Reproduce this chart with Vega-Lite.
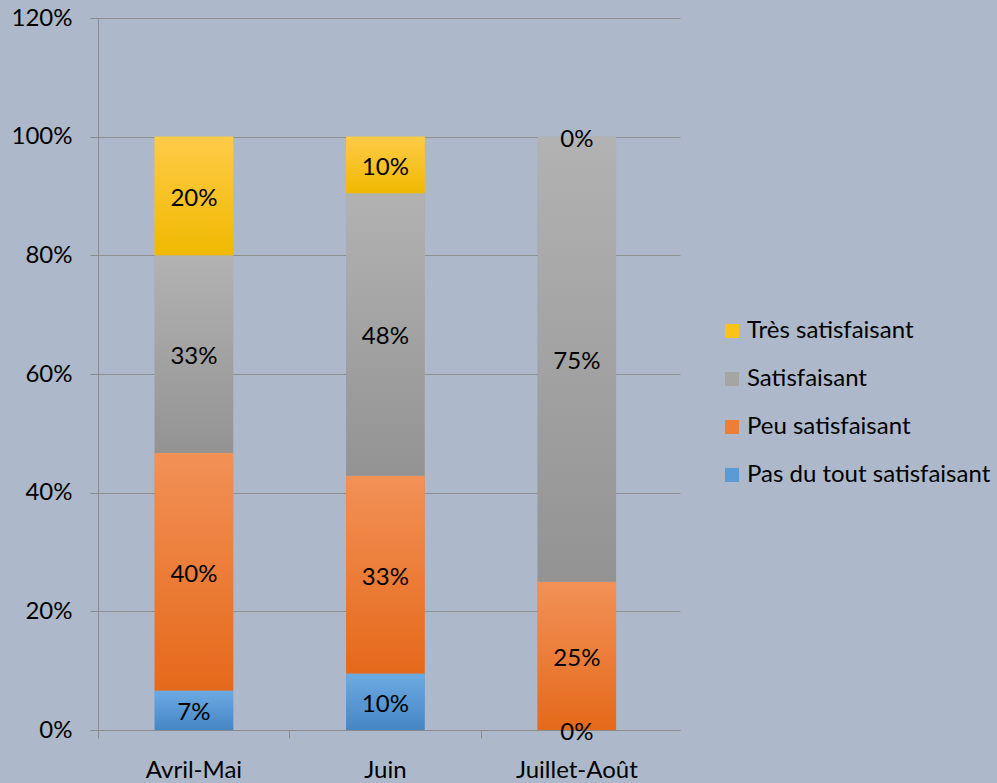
{
  "$schema": "https://vega.github.io/schema/vega-lite/v6.json",
  "autosize": {"type": "none"},
  "width": 582,
  "height": 712,
  "padding": {"left": 98, "top": 18, "right": 317, "bottom": 53},
  "background": "#adb9ca",
  "config": {
    "view": {"stroke": null},
    "font": "Lato",
    "text": {"font": "Lato"}
  },
  "data": {
    "values": [
      {"periode": "Avril-Mai", "niveau": "Pas du tout satisfaisant", "ordre": 1, "valeur": 0.0667},
      {"periode": "Avril-Mai", "niveau": "Peu satisfaisant", "ordre": 2, "valeur": 0.4},
      {"periode": "Avril-Mai", "niveau": "Satisfaisant", "ordre": 3, "valeur": 0.3333},
      {"periode": "Avril-Mai", "niveau": "Très satisfaisant", "ordre": 4, "valeur": 0.2},
      {"periode": "Juin", "niveau": "Pas du tout satisfaisant", "ordre": 1, "valeur": 0.0952},
      {"periode": "Juin", "niveau": "Peu satisfaisant", "ordre": 2, "valeur": 0.3333},
      {"periode": "Juin", "niveau": "Satisfaisant", "ordre": 3, "valeur": 0.4762},
      {"periode": "Juin", "niveau": "Très satisfaisant", "ordre": 4, "valeur": 0.0952},
      {"periode": "Juillet-Août", "niveau": "Pas du tout satisfaisant", "ordre": 1, "valeur": 0},
      {"periode": "Juillet-Août", "niveau": "Peu satisfaisant", "ordre": 2, "valeur": 0.25},
      {"periode": "Juillet-Août", "niveau": "Satisfaisant", "ordre": 3, "valeur": 0.75},
      {"periode": "Juillet-Août", "niveau": "Très satisfaisant", "ordre": 4, "valeur": 0}
    ]
  },
  "transform": [
    {"stack": "valeur", "groupby": ["periode"], "sort": [{"field": "ordre", "order": "ascending"}], "as": ["bas", "haut"]},
    {"calculate": "(datum.bas + datum.haut) / 2", "as": "milieu"}
  ],
  "encoding": {
    "x": {
      "field": "periode",
      "type": "nominal",
      "sort": ["Avril-Mai", "Juin", "Juillet-Août"],
      "scale": {"paddingInner": 0.59, "paddingOuter": 0.315, "align": 0.47},
      "axis": {
        "title": null,
        "labelAngle": 0,
        "labelFontSize": 24,
        "labelColor": "#000000",
        "labelPadding": 20,
        "tickSize": 8,
        "tickColor": "#8a8a8a",
        "domainColor": "#8a8a8a",
        "bandPosition": -0.72,
        "labelFont": "Lato"
      }
    }
  },
  "layer": [
    {
      "mark": {"type": "bar"},
      "encoding": {
        "y": {
          "field": "bas",
          "type": "quantitative",
          "scale": {"domain": [0, 1.2], "nice": false},
          "axis": {
            "title": null,
            "values": [0, 0.2, 0.4, 0.6, 0.8, 1.0, 1.2],
            "format": ".0%",
            "grid": true,
            "gridColor": "#8f8f8f",
            "gridOpacity": 1,
            "tickSize": 8,
            "tickColor": "#8a8a8a",
            "domainColor": "#8a8a8a",
            "labelFontSize": 24,
            "labelColor": "#000000",
            "labelPadding": 18,
            "labelFont": "Lato"
          }
        },
        "y2": {"field": "haut"},
        "color": {
          "field": "niveau",
          "type": "nominal",
          "scale": {
            "domain": ["Très satisfaisant", "Satisfaisant", "Peu satisfaisant", "Pas du tout satisfaisant"],
            "range": ["#fbc317", "#a5a5a5", "#ee7d35", "#5b9bd5"]
          },
          "legend": {
            "title": null,
            "orient": "none",
            "legendX": 622,
            "legendY": 301,
            "symbolType": "square",
            "symbolSize": 196,
            "symbolStrokeWidth": 0,
            "labelFontSize": 24,
            "labelColor": "#000000",
            "labelFont": "Lato",
            "labelOffset": 3,
            "rowPadding": 24,
            "padding": 0,
            "labelLimit": 400
          }
        },
        "order": {"field": "ordre"}
      }
    },
    {
      "mark": {"type": "bar"},
      "encoding": {
        "y": {"field": "bas", "type": "quantitative"},
        "y2": {"field": "haut"},
        "fill": {
          "condition": [
            {"test": "datum.niveau === 'Très satisfaisant'", "value": {"gradient": "linear", "x1": 0, "y1": 0, "x2": 0, "y2": 1, "stops": [{"offset": 0, "color": "#ffcb48"}, {"offset": 1, "color": "#efb900"}]}},
            {"test": "datum.niveau === 'Satisfaisant'", "value": {"gradient": "linear", "x1": 0, "y1": 0, "x2": 0, "y2": 1, "stops": [{"offset": 0, "color": "#b2b2b2"}, {"offset": 1, "color": "#939393"}]}},
            {"test": "datum.niveau === 'Peu satisfaisant'", "value": {"gradient": "linear", "x1": 0, "y1": 0, "x2": 0, "y2": 1, "stops": [{"offset": 0, "color": "#f29157"}, {"offset": 1, "color": "#e5691a"}]}}
          ],
          "value": {"gradient": "linear", "x1": 0, "y1": 0, "x2": 0, "y2": 1, "stops": [{"offset": 0, "color": "#6caae2"}, {"offset": 1, "color": "#4686c6"}]}
        }
      }
    },
    {
      "mark": {"type": "text", "fontSize": 24, "color": "#000000", "font": "Lato", "baseline": "middle", "align": "center", "dy": 3},
      "encoding": {
        "y": {"field": "milieu", "type": "quantitative"},
        "text": {"field": "valeur", "type": "quantitative", "format": ".0%"}
      }
    }
  ]
}
